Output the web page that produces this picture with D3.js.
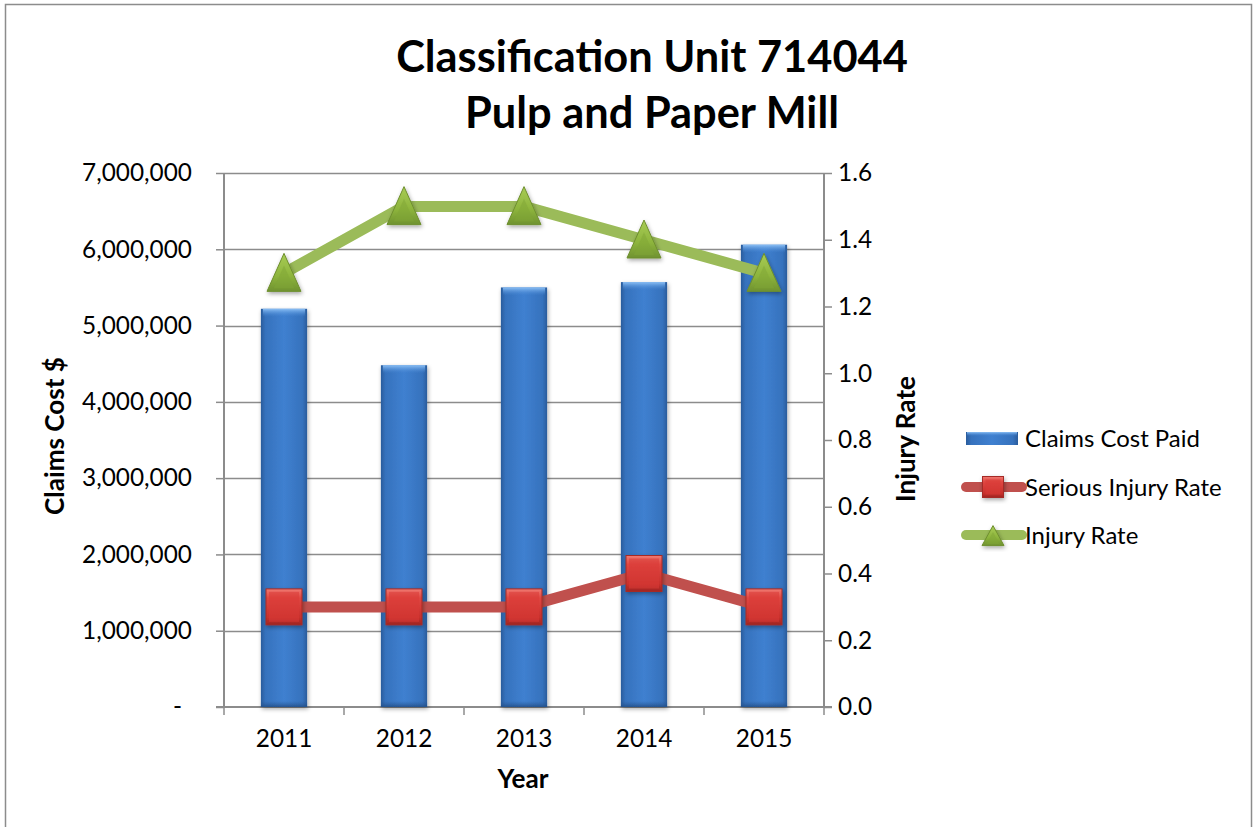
<!DOCTYPE html>
<html>
<head>
<meta charset="utf-8">
<script src="https://cdn.jsdelivr.net/npm/d3@7"></script>
<style>
  html, body { margin: 0; padding: 0; background: #fff; }
  svg { display: block; }
  text { font-family: Lato, "Open Sans", "Liberation Sans", sans-serif; fill: #000; }
</style>
</head>
<body>
<svg id="chart" width="1254" height="827"></svg>
<script>
// ---- data ----
const years = ["2011", "2012", "2013", "2014", "2015"];
const claimsCost = [5220000, 4480000, 5500000, 5570000, 6060000];
const seriousInjuryRate = [0.3, 0.3, 0.3, 0.4, 0.3];
const injuryRate = [1.3, 1.5, 1.5, 1.4, 1.3];
const leftTicks = [0, 1000000, 2000000, 3000000, 4000000, 5000000, 6000000, 7000000];
const rightTicks = [0, 0.2, 0.4, 0.6, 0.8, 1.0, 1.2, 1.4, 1.6];
const titleLines = ["Classification Unit 714044", "Pulp and Paper Mill"];
const seriesNames = ["Claims Cost Paid", "Serious Injury Rate", "Injury Rate"];

// ---- layout ----
const svg = d3.select("#chart");
const plot = { left: 224, right: 824, top: 173, bottom: 707 };

// font-size fitting helper: choose size so that a sample string has a target width
function fitSize(sample, target, weight) {
  const t = svg.append("text").attr("font-size", 100).attr("font-weight", weight || "normal").text(sample);
  const w = t.node().getComputedTextLength();
  t.remove();
  return 100 * target / w;
}
const fsTitle = fitSize(titleLines[0], 512, "bold");
const fsTick = fitSize("7,000,000", 110);
const fsLegend = fitSize(seriesNames[0], 175);
const fsAxisTitle = fitSize("Claims Cost $", 158, "bold");

const x = d3.scaleBand().domain(years).range([plot.left, plot.right]).paddingInner(0.615).paddingOuter(0.3075);
const yL = d3.scaleLinear().domain([0, 7000000]).range([plot.bottom, plot.top]);
const yR = d3.scaleLinear().domain([0, 1.6]).range([plot.bottom, plot.top]);
const xc = d => x(d) + x.bandwidth() / 2;

const defs = svg.append("defs");
const gBar = defs.append("linearGradient").attr("id", "barH").attr("x1", 0).attr("x2", 1).attr("y1", 0).attr("y2", 0);
[[0, "#2a5c9c"], [0.1, "#3672bd"], [0.5, "#3f80d0"], [0.9, "#3672bd"], [1, "#2a5c9c"]]
  .forEach(s => gBar.append("stop").attr("offset", s[0]).attr("stop-color", s[1]));
const gTop = defs.append("linearGradient").attr("id", "barTop").attr("x1", 0).attr("x2", 0).attr("y1", 0).attr("y2", 1);
[[0, "#8cc0f5", 1], [1, "#4a8ad6", 0]].forEach(s => gTop.append("stop").attr("offset", s[0]).attr("stop-color", s[1]).attr("stop-opacity", s[2]));
const gBot = defs.append("linearGradient").attr("id", "barBot").attr("x1", 0).attr("x2", 0).attr("y1", 0).attr("y2", 1);
[[0, "#2a5c9c", 0], [1, "#244f88", 0.9]].forEach(s => gBot.append("stop").attr("offset", s[0]).attr("stop-color", s[1]).attr("stop-opacity", s[2]));
const gRed = defs.append("linearGradient").attr("id", "red").attr("x1", 0).attr("x2", 0).attr("y1", 0).attr("y2", 1);
[[0, "#f07a72"], [0.25, "#e04641"], [0.8, "#c8302c"], [1, "#9e2522"]].forEach(s => gRed.append("stop").attr("offset", s[0]).attr("stop-color", s[1]));
const gGreen = defs.append("linearGradient").attr("id", "green").attr("x1", 0).attr("x2", 0).attr("y1", 0).attr("y2", 1);
[[0, "#a8cc55"], [0.6, "#8db43c"], [1, "#6f9230"]].forEach(s => gGreen.append("stop").attr("offset", s[0]).attr("stop-color", s[1]));
const shadow = defs.append("filter").attr("id", "shadow").attr("x", "-30%").attr("y", "-30%").attr("width", "160%").attr("height", "160%");
shadow.append("feDropShadow").attr("dx", 1).attr("dy", 2).attr("stdDeviation", 2).attr("flood-color", "#000").attr("flood-opacity", 0.35);

// outer border
svg.append("rect").attr("x", 5.5).attr("y", 4.5).attr("width", 1246).attr("height", 840)
  .attr("fill", "none").attr("stroke", "#8c8c8c").attr("stroke-width", 1.5);

// title
const titleY = [72, 128];
titleLines.forEach((t, i) => {
  svg.append("text").attr("x", 652).attr("y", titleY[i]).attr("text-anchor", "middle")
    .attr("font-weight", "bold").attr("font-size", fsTitle).text(t);
});

// grid lines
svg.append("g").selectAll("line").data(leftTicks.slice(1)).join("line")
  .attr("x1", plot.left).attr("x2", plot.right)
  .attr("y1", d => Math.round(yL(d)) + 0.5).attr("y2", d => Math.round(yL(d)) + 0.5)
  .attr("stroke", "#8c8c8c").attr("stroke-width", 1.5);

// axes
const fmt = d => d === 0 ? "-" : d3.format(",")(d);
const axL = svg.append("g").attr("transform", `translate(${plot.left},0)`)
  .call(d3.axisLeft(yL).tickValues(leftTicks).tickFormat(fmt).tickSize(8).tickPadding(24));
const axR = svg.append("g").attr("transform", `translate(${plot.right},0)`)
  .call(d3.axisRight(yR).tickValues(rightTicks).tickFormat(d3.format(".1f")).tickSize(8).tickPadding(6));
const axB = svg.append("g").attr("transform", `translate(0,${plot.bottom})`)
  .call(d3.axisBottom(x).tickSize(0).tickPadding(23));
const step = x.step();
axB.append("g").selectAll("line").data(d3.range(years.length + 1)).join("line")
  .attr("x1", i => plot.left + i * step).attr("x2", i => plot.left + i * step)
  .attr("y1", 0).attr("y2", 8).attr("stroke", "#8c8c8c").attr("stroke-width", 1.5);
[axL, axR, axB].forEach(a => {
  a.select(".domain").attr("stroke", "#8c8c8c").attr("stroke-width", 2);
  a.selectAll(".tick line").attr("stroke", "#8c8c8c").attr("stroke-width", 1.5);
  a.selectAll(".tick text").attr("font-size", fsTick).attr("fill", "#000")
    .style("font-family", "Lato, 'Open Sans', sans-serif");
});
axL.select(".domain").attr("d", `M0,${plot.top}V${plot.bottom}`);
axR.select(".domain").attr("d", `M0,${plot.top}V${plot.bottom}`);
axB.select(".domain").attr("d", `M${plot.left - 8},0H${plot.right + 8}`);
axL.selectAll(".tick").filter(d => d === 0).select("text").attr("dx", -10);

// bars
const bars = svg.append("g");
years.forEach((yr, i) => {
  const bx = x(yr), bw = x.bandwidth(), by = yL(claimsCost[i]), bh = plot.bottom - by;
  const g = bars.append("g").attr("filter", "url(#shadow)");
  g.append("rect").attr("x", bx).attr("y", by).attr("width", bw).attr("height", bh).attr("fill", "url(#barH)");
  g.append("rect").attr("x", bx + 2).attr("y", by).attr("width", bw - 4).attr("height", 8).attr("fill", "url(#barTop)");
  g.append("rect").attr("x", bx).attr("y", plot.bottom - 6).attr("width", bw).attr("height", 6).attr("fill", "url(#barBot)");
});

// lines
const lineR = d3.line().x((d, i) => xc(years[i])).y(d => yR(d));
svg.append("path").datum(injuryRate).attr("d", lineR).attr("fill", "none")
  .attr("stroke", "#9bbb59").attr("stroke-width", 11).attr("stroke-linejoin", "round");
svg.append("path").datum(seriousInjuryRate).attr("d", lineR).attr("fill", "none")
  .attr("stroke", "#c0504d").attr("stroke-width", 11).attr("stroke-linejoin", "round");

// markers
function square(g, cx, cy, s) {
  g.append("rect").attr("x", cx - s / 2).attr("y", cy - s / 2).attr("width", s).attr("height", s)
    .attr("fill", "url(#red)").attr("stroke", "#a52a27").attr("stroke-width", 1).attr("filter", "url(#shadow)");
  g.append("rect").attr("x", cx - s / 2 + 3).attr("y", cy - s / 2 + 3).attr("width", s - 6).attr("height", s - 6)
    .attr("fill", "#d83a36").attr("opacity", 0.55);
}
function triangle(g, cx, cy, w, h) {
  const pts = [[cx, cy - h * 0.52], [cx + w / 2, cy + h * 0.48], [cx - w / 2, cy + h * 0.48]];
  g.append("path").attr("d", "M" + pts.map(p => p.join(",")).join("L") + "Z")
    .attr("fill", "url(#green)").attr("stroke", "#6e8f2e").attr("stroke-width", 1).attr("filter", "url(#shadow)");
  const inner = [[cx, cy - h * 0.2], [cx + w * 0.3, cy + h * 0.4], [cx - w * 0.3, cy + h * 0.4]];
  g.append("path").attr("d", "M" + inner.map(p => p.join(",")).join("L") + "Z").attr("fill", "#7fa535").attr("opacity", 0.5);
}
const mk = svg.append("g");
injuryRate.forEach((v, i) => triangle(mk, xc(years[i]), yR(v), 34, 38));
seriousInjuryRate.forEach((v, i) => square(mk, xc(years[i]), yR(v), 36));

// axis titles
svg.append("text").attr("transform", `translate(64,436) rotate(-90)`).attr("text-anchor", "middle")
  .attr("font-weight", "bold").attr("font-size", fsAxisTitle).text("Claims Cost $");
svg.append("text").attr("transform", `translate(915,439) rotate(-90)`).attr("text-anchor", "middle")
  .attr("font-weight", "bold").attr("font-size", fsAxisTitle).text("Injury Rate");
svg.append("text").attr("x", 523).attr("y", 788).attr("text-anchor", "middle")
  .attr("font-weight", "bold").attr("font-size", fsAxisTitle).text("Year");

// legend
const lg = svg.append("g");
const legY = [438, 487, 535];
lg.append("rect").attr("x", 966).attr("y", legY[0] - 6).attr("width", 52).attr("height", 13).attr("fill", "url(#barH)");
lg.append("rect").attr("x", 967).attr("y", legY[0] - 6).attr("width", 50).attr("height", 4).attr("fill", "url(#barTop)");
lg.append("line").attr("x1", 966).attr("x2", 1022).attr("y1", legY[1]).attr("y2", legY[1])
  .attr("stroke", "#c0504d").attr("stroke-width", 10).attr("stroke-linecap", "round");
square(lg, 993, legY[1], 21);
lg.append("line").attr("x1", 966).attr("x2", 1022).attr("y1", legY[2]).attr("y2", legY[2])
  .attr("stroke", "#9bbb59").attr("stroke-width", 10).attr("stroke-linecap", "round");
triangle(lg, 993, legY[2] + 1, 22, 20);
seriesNames.forEach((n, i) => {
  lg.append("text").attr("x", 1025).attr("y", legY[i]).attr("dy", "0.36em").attr("font-size", fsLegend).text(n);
});
</script>
</body>
</html>
